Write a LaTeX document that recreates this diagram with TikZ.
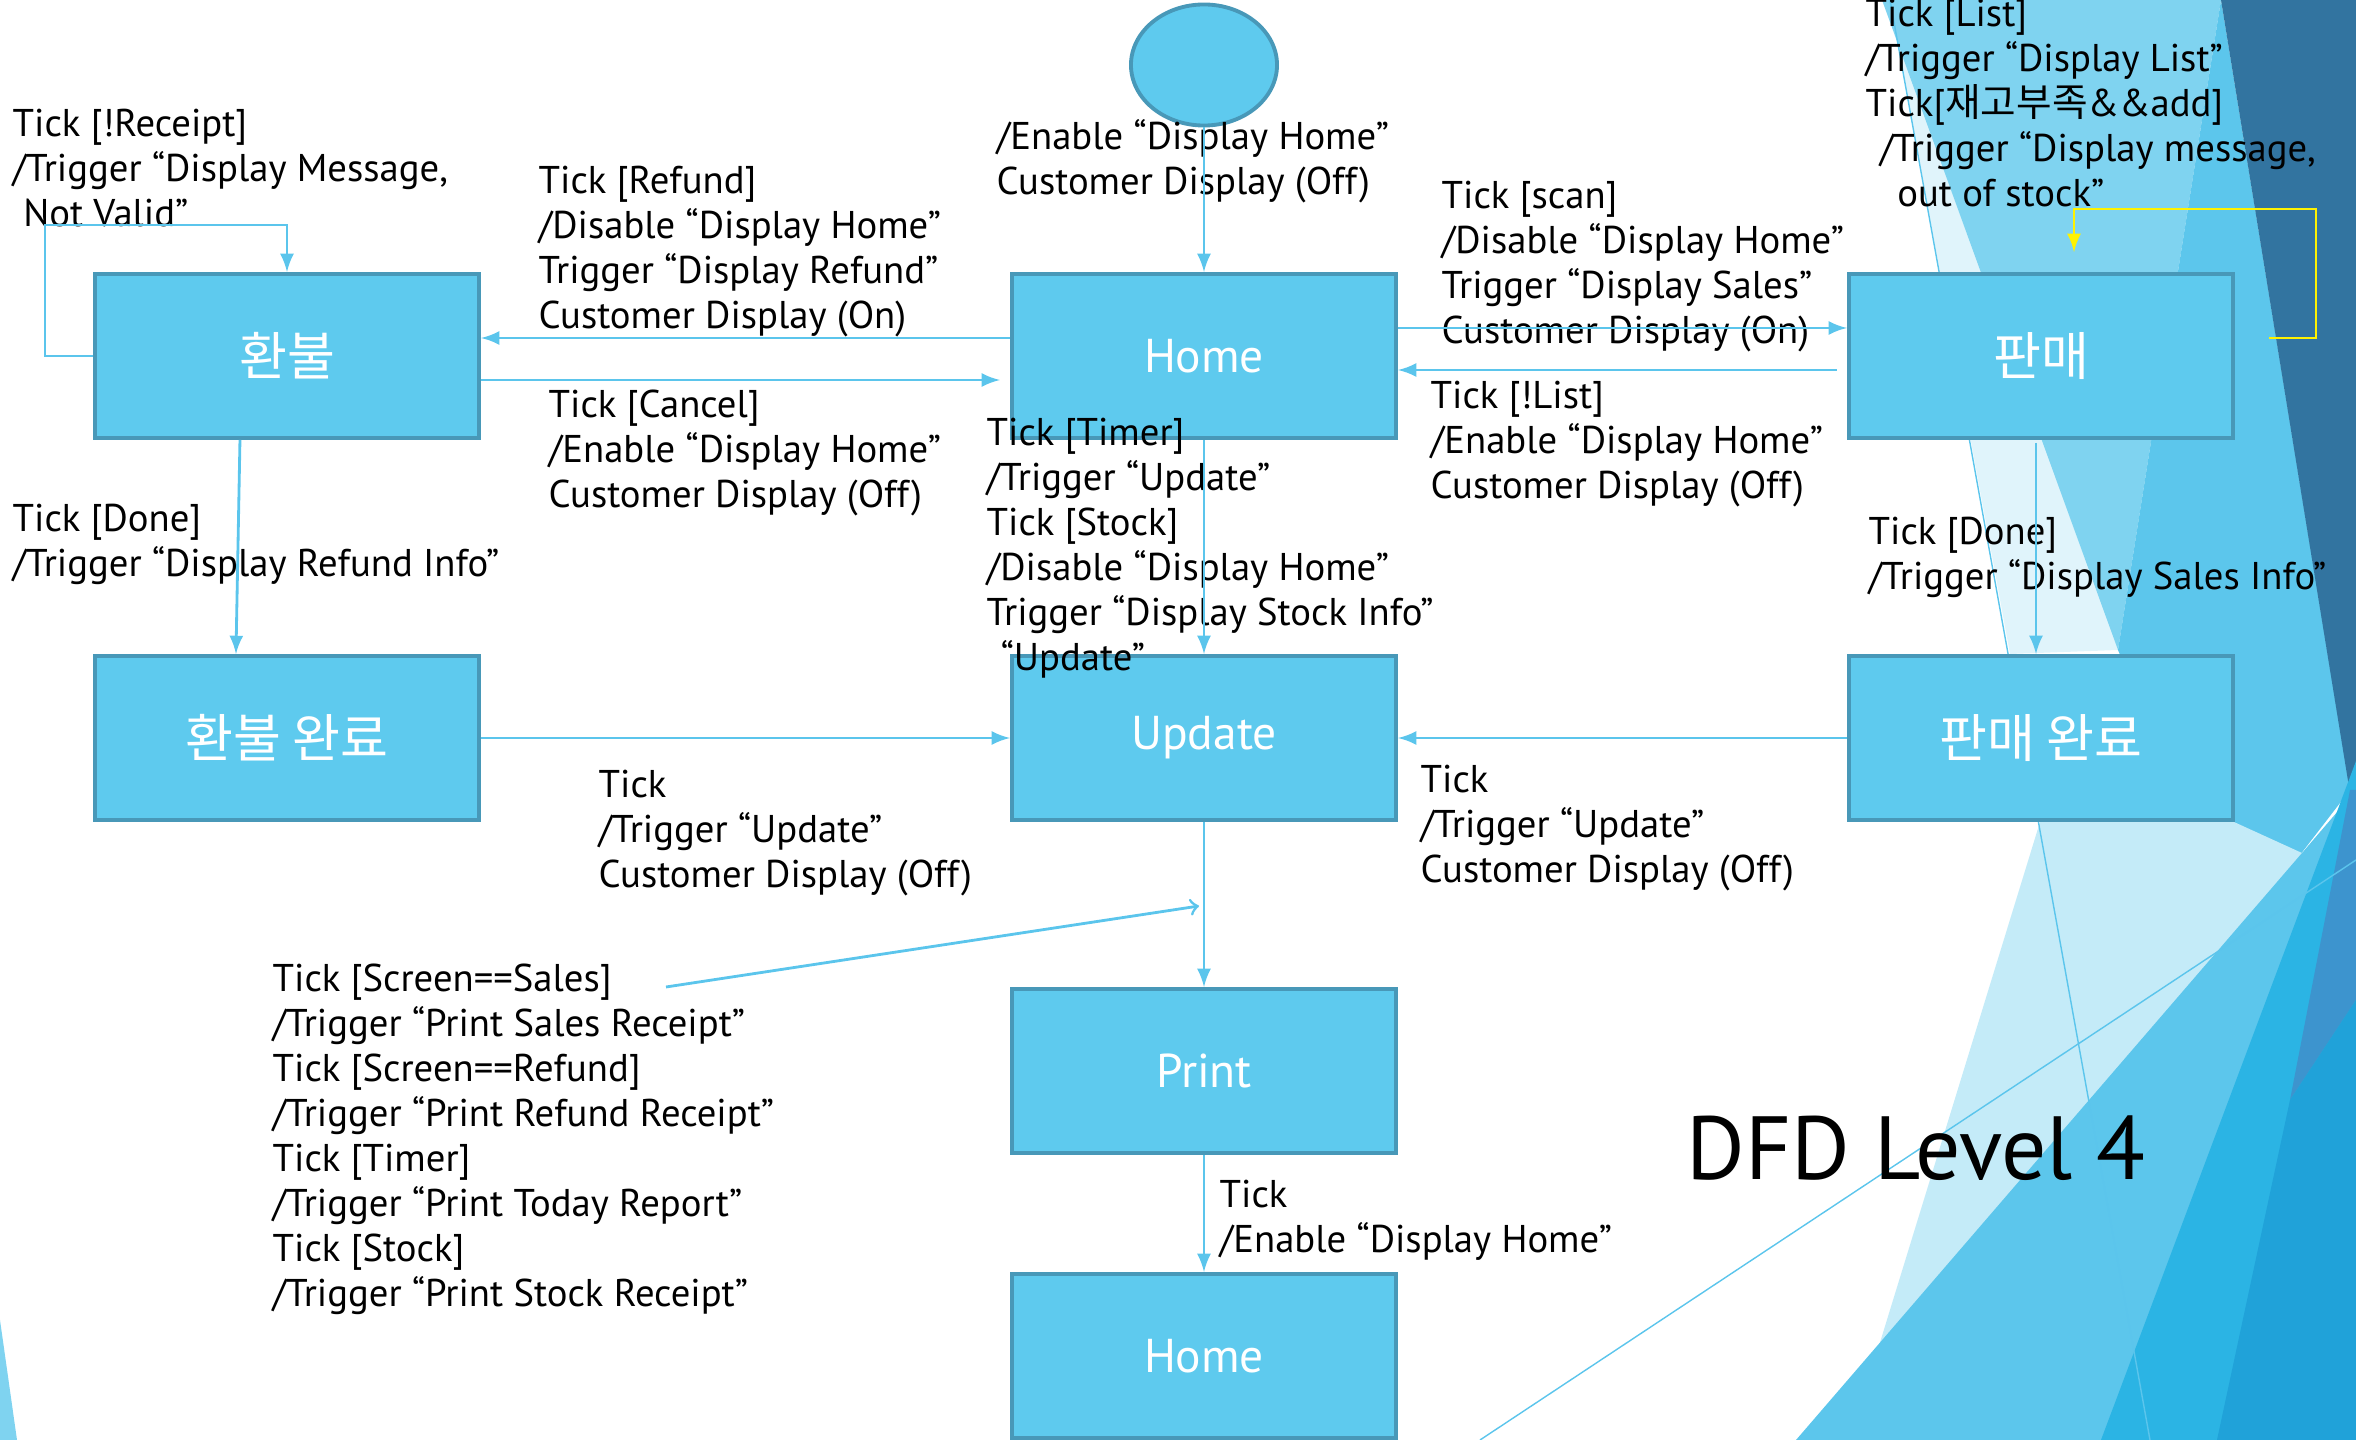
\documentclass[tikz,border=0pt]{standalone}
\usepackage{fontspec}
\setmainfont{PT Sans}
\newfontfamily\kr{Noto Sans CJK KR}
\usetikzlibrary{positioning,shapes.geometric}
\definecolor{boxfill}{RGB}{94,202,238}
\definecolor{boxedge}{RGB}{72,152,184}
\definecolor{wire}{RGB}{91,197,236}
\definecolor{facetdark}{RGB}{50,116,160}
\definecolor{facetmid}{RGB}{92,198,236}
\definecolor{facetlight}{RGB}{127,211,240}
\definecolor{facetice}{RGB}{196,235,248}
\definecolor{facetpale}{RGB}{224,244,251}
\definecolor{facetstrong}{RGB}{43,180,228}
\definecolor{facetdeep}{RGB}{32,162,217}
\definecolor{facetsteel}{RGB}{61,148,206}
\tikzstyle{state}=[draw=boxedge, fill=boxfill, line width=1.1pt, minimum width=3.84cm, minimum height=1.64cm, text=white, font=\fontsize{13.5}{16}\selectfont]
\tikzstyle{guard}=[anchor=base west, align=left, inner sep=0pt, font=\fontsize{11}{12.8}\selectfont]
\tikzstyle{flow}=[-latex, wire, line width=0.8pt]
\tikzstyle{pointer}=[->, wire, line width=0.8pt]
\tikzstyle{loopback}=[-latex, yellow, line width=0.8pt]
\newcommand{\krbox}{\kr\fontsize{14.8}{17}\selectfont}
\newcommand{\drawfacets}{
  \fill[facetpale] (1890,0) -- (2118,650) -- (2010,654) -- cycle;
  \fill[facetlight] (1882,0) -- (2221,0) -- (2118,650) -- cycle;
  \fill[facetmid] (2221,0) -- (2350,790) -- (2300,855) -- (2190,822) -- (2118,650) -- cycle;
  \fill[facetdark] (2221,0) -- (2356,0) -- (2356,830) -- cycle;
  \fill[facetice] (2040,822) -- (2234,822) -- (2302,853) -- (1890,1440) -- (1850,1440) -- cycle;
  \fill[facetmid] (1796,1440) -- (2302,853) -- (2356,790) -- (2356,1440) -- cycle;
  \fill[facetstrong] (2356,761) -- (2356,1440) -- (2101,1440) -- cycle;
  \fill[facetsteel] (2350,790) -- (2356,790) -- (2356,1000) -- (2290,1100) -- cycle;
  \fill[facetdeep] (2290,1100) -- (2356,1000) -- (2356,1440) -- (2217,1440) -- cycle;
  \fill[facetlight] (0,1320) -- (17,1440) -- (0,1440) -- cycle;
  \draw[wire, line width=0.4pt] (1890,0) -- (2150,1440);
  \draw[wire, line width=0.4pt] (1480,1440) -- (2356,860);
}

\begin{document}
\begin{tikzpicture}[x=0.01cm, y=-0.01cm]
  \clip (0,0) rectangle (2356,1440);
  \drawfacets{}
  % states
  \node[draw=boxedge, fill=boxfill, line width=1.1pt, ellipse, minimum width=1.46cm, minimum height=1.21cm] (start) at (1204,65) {};
  \node[state] (hwanbul) at (287,356) {\krbox 환불};
  \node[state] (home) at (1204,356) {Home};
  \node[state] (panmae) at (2041,356) {\krbox 판매};
  \node[state] (hwanbuldone) at (287,738) {\krbox 환불 완료};
  \node[state] (update) at (1204,738) {Update};
  \node[state] (panmaedone) at (2041,738) {\krbox 판매 완료};
  \node[state] (print) at (1204,1071) {Print};
  \node[state] (homeend) at (1204,1356) {Home};
  % guards (placed by the baseline of their last line)
  \node[guard] (receipt) at (12,227) {Tick [!Receipt]\\/Trigger “Display Message,\\\hspace*{3pt}Not Valid”};
  \node[guard] (refund) at (538,329) {Tick [Refund]\\/Disable “Display Home”\\Trigger “Display Refund”\\Customer Display (On)};
  \node[guard] (enable) at (996,195) {/Enable “Display Home”\\Customer Display (Off)};
  \node[guard] (scan) at (1441,344) {Tick [scan]\\/Disable “Display Home”\\Trigger “Display Sales”\\Customer Display (On)};
  \node[guard] (list) at (1865,207) {Tick [List]\\/Trigger “Display List”\\Tick[{\kr 재고부족}\&\&add]\\\hspace*{4pt}/Trigger “Display message,\\\hspace*{9pt}out of stock”};
  \node[guard] (cancel) at (548,508) {Tick [Cancel]\\/Enable “Display Home”\\Customer Display (Off)};
  \node[guard] (timer) at (986,671) {Tick [Timer]\\/Trigger “Update”\\Tick [Stock]\\/Disable “Display Home”\\Trigger “Display Stock Info”\\\hspace*{4pt}“Update”};
  \node[guard] (notlist) at (1430,499) {Tick [!List]\\/Enable “Display Home”\\Customer Display (Off)};
  \node[guard] (refunddone) at (12,577) {Tick [Done]\\/Trigger “Display Refund Info”};
  \node[guard] (salesdone) at (1868,590) {Tick [Done]\\/Trigger “Display Sales Info”};
  \node[guard] (tickleft) at (598,888) {Tick\\/Trigger “Update”\\Customer Display (Off)};
  \node[guard] (tickright) at (1420,883) {Tick\\/Trigger “Update”\\Customer Display (Off)};
  \node[guard] (screen) at (272,1307) {Tick [Screen==Sales]\\/Trigger “Print Sales Receipt”\\Tick [Screen==Refund]\\/Trigger “Print Refund Receipt”\\Tick [Timer]\\/Trigger “Print Today Report”\\Tick [Stock]\\/Trigger “Print Stock Receipt”};
  \node[guard] (printtick) at (1219,1253) {Tick\\/Enable “Display Home”};
  \node[anchor=base west, inner sep=0pt, font=\fontsize{25.5}{30}\selectfont] (title) at (1686,1180) {DFD Level 4};
  % transitions
  \draw[flow] (start) -- (home);
  \draw[flow] ([yshift=0.18cm]home.west) -- ([yshift=0.18cm]hwanbul.east);
  \draw[flow] ([yshift=-0.24cm]hwanbul.east) -- ([xshift=-0.1cm,yshift=-0.24cm]home.west);
  \draw[flow] ([yshift=0.28cm]home.east) -- ([yshift=0.28cm]panmae.west);
  \draw[flow] ([xshift=-0.1cm,yshift=-0.14cm]panmae.west) -- ([yshift=-0.14cm]home.east);
  \draw[flow] (hwanbul.west) -- ++(-48,0) -- ++(0,-131) -| (hwanbul.north);
  \draw[loopback] ([xshift=0.34cm,yshift=0.18cm]panmae.east) -- ++(47,0) |- ([xshift=0.33cm,yshift=0.63cm]panmae.north) -- ([xshift=0.33cm,yshift=0.2cm]panmae.north);
  \draw[flow] (home) -- (update);
  \draw[flow] ([xshift=-0.47cm]hwanbul.south) -- ([xshift=-0.51cm]hwanbuldone.north);
  \draw[flow] ([xshift=-0.05cm,yshift=-0.03cm]panmae.south) -- ([xshift=-0.05cm]panmaedone.north);
  \draw[flow] (hwanbuldone) -- (update);
  \draw[flow] (panmaedone) -- (update);
  \draw[flow] (update) -- (print);
  \coordinate (screenfrom) at (666,987);
  \coordinate (screento) at (1199,906);
  \draw[pointer] (screenfrom) -- (screento);
  \draw[flow] (print) -- (homeend);
\end{tikzpicture}
\end{document}
